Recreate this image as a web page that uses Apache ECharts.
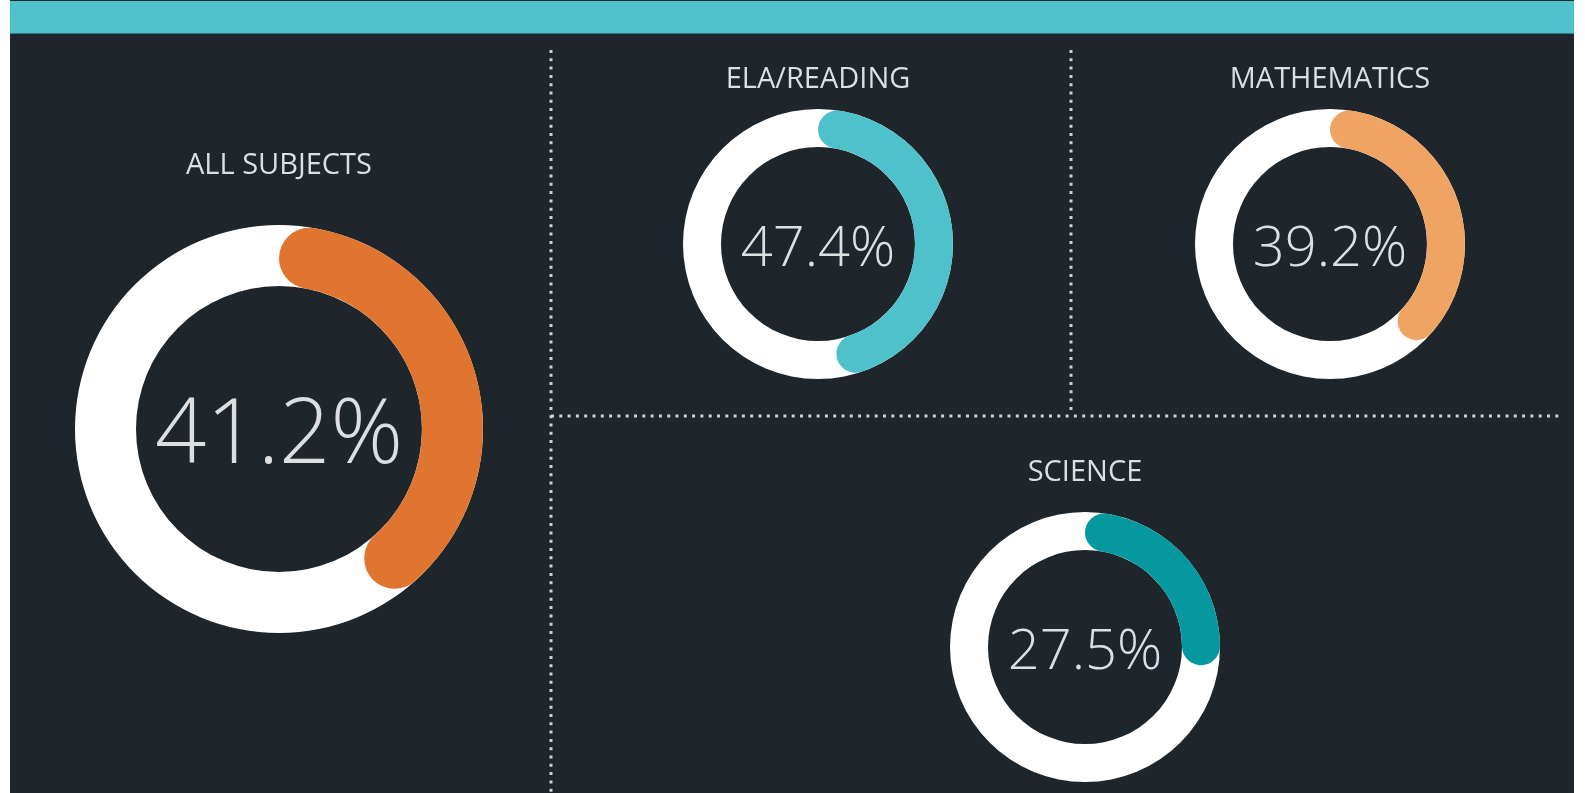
<!DOCTYPE html>
<html>
<head>
<meta charset="utf-8">
<script src="https://cdn.jsdelivr.net/npm/echarts@6/dist/echarts.min.js"></script>
<style>
  html, body { margin: 0; padding: 0; background: #ffffff; }
  #main { width: 1585px; height: 793px; }
</style>
</head>
<body>
<div id="main"></div>
<script>
// subjects and their percentages
const subjects = ['ALL SUBJECTS', 'ELA/READING', 'MATHEMATICS', 'SCIENCE'];
const percents = [41.2, 47.4, 39.2, 27.5];
const colors = ['#e07530', '#4ec1cb', '#f0a463', '#05999f'];

// ring placement (px)
const centers = [[279, 429], [818, 244], [1330, 244], [1085, 647]];
const radii = [[143, 204], [97, 135], [97, 135], [97, 135]];
const titleY = [166, 80, 80, 473];
const valueFont = [90, 56, 56, 56];

const bg = '#1e252b';
const textColor = '#dcdee0';
const dotColor = '#cdd1d4';

var chart = echarts.init(document.getElementById('main'));

var series = [];
subjects.forEach((name, i) => {
    // white track
    series.push({
        type: 'pie',
        silent: true,
        center: centers[i],
        radius: radii[i],
        label: { show: false },
        labelLine: { show: false },
        itemStyle: { color: '#ffffff' },
        data: [{ value: 1, name: name + ' track' }]
    });
    // coloured progress
    series.push({
        type: 'pie',
        silent: true,
        startAngle: 90,
        center: centers[i],
        radius: radii[i],
        itemStyle: { borderRadius: (radii[i][1] - radii[i][0]) / 2 },
        labelLine: { show: false },
        data: [
            {
                value: percents[i],
                name: name,
                itemStyle: { color: colors[i] },
                label: {
                    show: true,
                    position: 'center',
                    formatter: '{c}%',
                    color: textColor,
                    fontFamily: 'Open Sans',
                    fontWeight: 300,
                    fontSize: valueFont[i],
                    offset: [0, i === 0 ? 8 : 6]
                }
            },
            {
                value: +(100 - percents[i]).toFixed(1),
                name: 'rest',
                itemStyle: { color: 'rgba(0,0,0,0)', borderRadius: 0 },
                label: { show: false }
            }
        ]
    });
});

function dotted(x1, y1, x2, y2) {
    return {
        type: 'line',
        silent: true,
        shape: { x1: x1, y1: y1, x2: x2, y2: y2 },
        style: { stroke: dotColor, lineWidth: 3, lineDash: [3, 5.3] },
        z: 5
    };
}

var graphics = [
    { type: 'rect', shape: { x: 10, y: 0, width: 1564, height: 793 }, style: { fill: bg }, z: -10 },
    { type: 'rect', shape: { x: 10, y: 1, width: 1564, height: 32 }, style: { fill: '#4ec1ca' }, z: -9 },
    { type: 'rect', shape: { x: 10, y: 33, width: 1564, height: 1 }, style: { fill: '#2f7a80' }, z: -9 },
    dotted(551, 50, 551, 793),
    dotted(1071, 50, 1071, 410),
    dotted(551, 416, 1562, 416)
];

subjects.forEach((name, i) => {
    graphics.push({
        type: 'text',
        silent: true,
        x: centers[i][0],
        y: titleY[i],
        style: {
            text: name,
            fill: textColor,
            font: '29px "Open Sans"',
            textAlign: 'center',
            textVerticalAlign: 'middle'
        },
        z: 6
    });
});

var option = {
    animation: false,
    backgroundColor: '#ffffff',
    graphic: graphics,
    series: series
};

chart.setOption(option);
</script>
</body>
</html>
